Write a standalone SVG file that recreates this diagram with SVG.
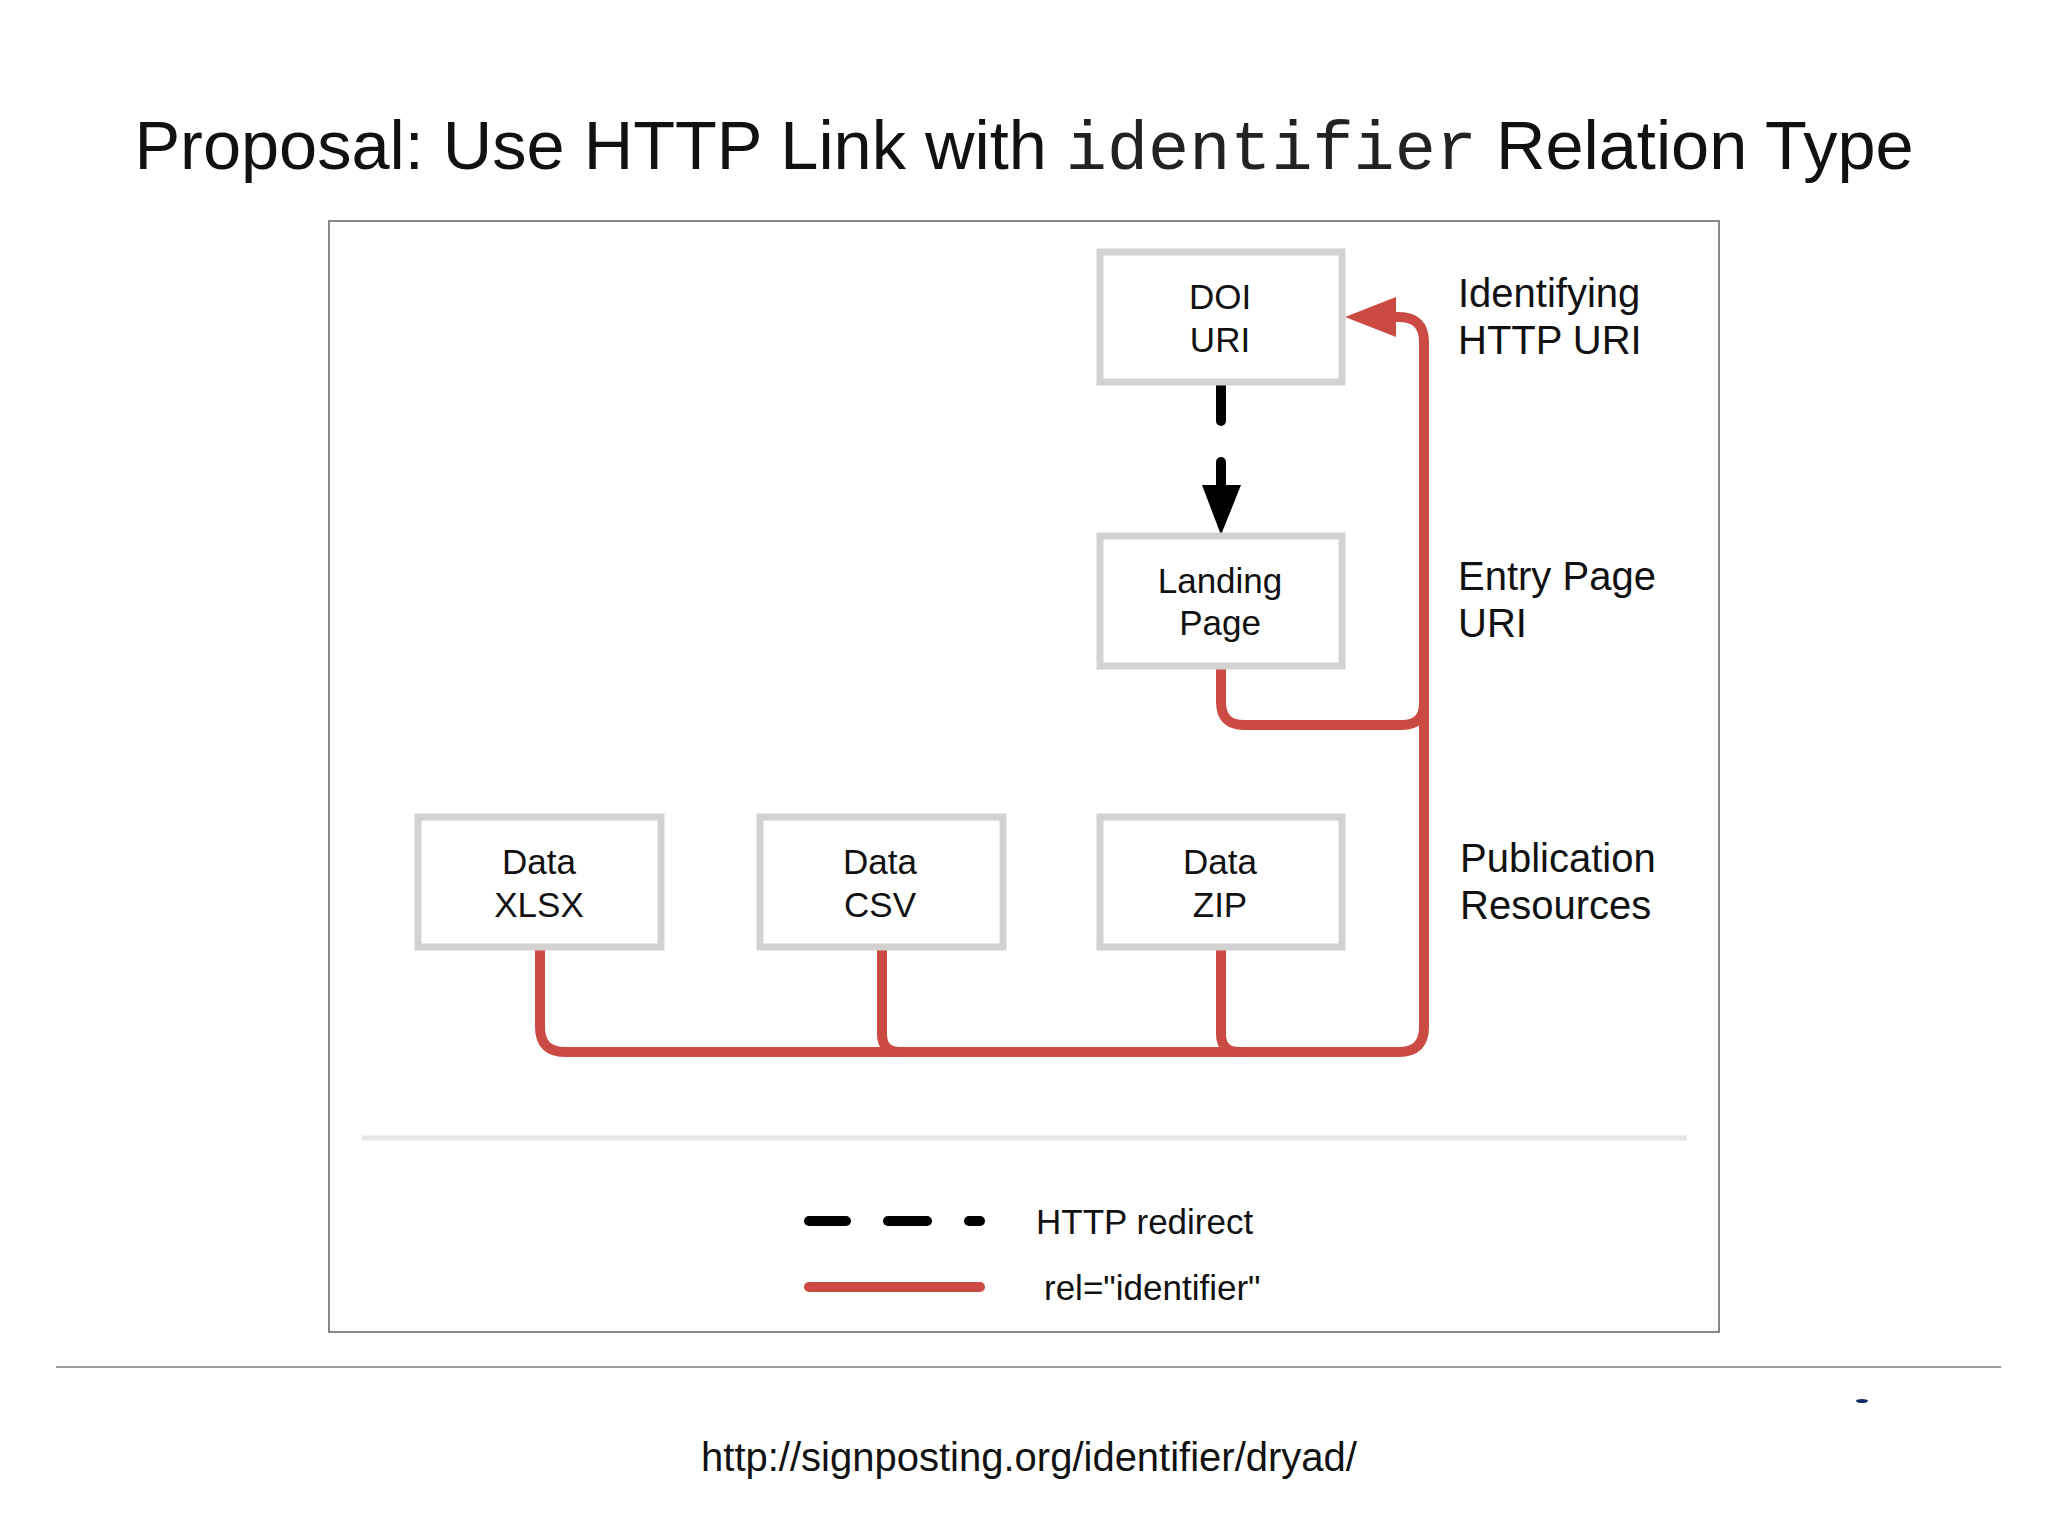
<svg xmlns="http://www.w3.org/2000/svg" width="2048" height="1536" viewBox="0 0 2048 1536">
<defs>
<style>
.sans{font-family:"Liberation Sans",Arial,sans-serif;fill:#111}
.mono{font-family:"Liberation Mono","Courier New",monospace;fill:#222}
.box{fill:#fff;stroke:#d2d2d2;stroke-width:7}
.bt{font-size:35px;text-anchor:middle}
.lbl{font-size:40px}
.red{fill:none;stroke:#cb4a44;stroke-width:10;stroke-linecap:round;stroke-linejoin:round}
.blk{fill:none;stroke:#000;stroke-width:10;stroke-linecap:round}
</style>
</defs>
<rect width="2048" height="1536" fill="#fff"/>
<text id="title" class="sans" x="1024" y="169" font-size="68.5" text-anchor="middle">Proposal: Use HTTP Link with <tspan class="mono" font-size="68.5">identifier</tspan> Relation Type</text>
<rect id="frame" x="329" y="221" width="1390" height="1111" fill="#fff" stroke="#888" stroke-width="2"/>
<g id="connectors">
<path class="red" d="M540 950 V1027 Q540 1052 565 1052 H1399 Q1424 1052 1424 1027 V342 Q1424 317 1399 317 H1390"/>
<polygon points="1345,317 1396,297 1396,337" fill="#cb4a44"/>
<path class="red" d="M882 950 V1034 Q882 1052 900 1052"/>
<path class="red" d="M1221 950 V1034 Q1221 1052 1239 1052"/>
<path class="red" d="M1221 669 V702 Q1221 725 1244 725 H1402 Q1424 725 1424 703"/>
<line class="blk" x1="1221" y1="383" x2="1221" y2="421"/>
<line class="blk" x1="1221" y1="462" x2="1221" y2="492"/>
<polygon points="1202,485 1241,485 1221,535" fill="#000"/>
</g>
<g id="doi"><rect class="box" x="1100" y="252" width="242" height="130"/><text class="sans bt" x="1220" y="309">DOI</text><text class="sans bt" x="1220" y="352">URI</text></g>
<g id="landing"><rect class="box" x="1100" y="536" width="242" height="130"/><text class="sans bt" x="1220" y="593">Landing</text><text class="sans bt" x="1220" y="635">Page</text></g>
<g id="xlsx"><rect class="box" x="418" y="817" width="243" height="130"/><text class="sans bt" x="539" y="874">Data</text><text class="sans bt" x="539" y="917">XLSX</text></g>
<g id="csv"><rect class="box" x="760" y="817" width="243" height="130"/><text class="sans bt" x="880" y="874">Data</text><text class="sans bt" x="880" y="917">CSV</text></g>
<g id="zip"><rect class="box" x="1100" y="817" width="242" height="130"/><text class="sans bt" x="1220" y="874">Data</text><text class="sans bt" x="1220" y="917">ZIP</text></g>
<g id="labels">
<text class="sans lbl" x="1458" y="307">Identifying</text>
<text class="sans lbl" x="1458" y="354">HTTP URI</text>
<text class="sans lbl" x="1458" y="590">Entry Page</text>
<text class="sans lbl" x="1458" y="637">URI</text>
<text class="sans lbl" x="1460" y="872">Publication</text>
<text class="sans lbl" x="1460" y="919">Resources</text>
</g>
<line x1="362" y1="1138" x2="1687" y2="1138" stroke="#e6e6e6" stroke-width="5"/>
<g id="legend">
<line class="blk" x1="809" y1="1221" x2="846" y2="1221"/>
<line class="blk" x1="888" y1="1221" x2="927" y2="1221"/>
<line class="blk" x1="969" y1="1221" x2="980" y2="1221"/>
<text class="sans" x="1036" y="1234" font-size="35">HTTP redirect</text>
<line x1="809" y1="1287" x2="980" y2="1287" stroke="#cb4a44" stroke-width="10" stroke-linecap="round"/>
<text class="sans" x="1044" y="1300" font-size="35">rel="identifier"</text>
</g>
<line x1="56" y1="1367" x2="2001" y2="1367" stroke="#999" stroke-width="2"/>
<ellipse cx="1862" cy="1401" rx="6" ry="2" fill="#1a2a6a"/>
<text id="footer" class="sans" x="1029" y="1471" font-size="40" text-anchor="middle">http://signposting.org/identifier/dryad/</text>
</svg>
